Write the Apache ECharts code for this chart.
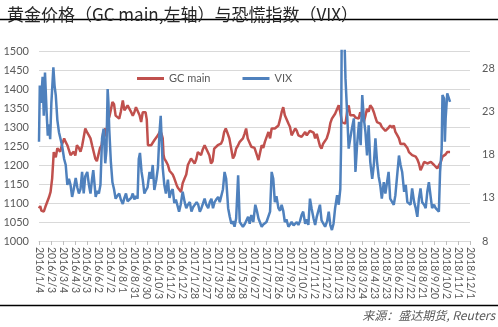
<!DOCTYPE html>
<html><head><meta charset="utf-8">
<script src="https://cdn.jsdelivr.net/npm/echarts@6/dist/echarts.min.js"></script>
<style>html,body{margin:0;padding:0;background:#fff}#c{width:498px;height:327px}</style>
</head><body><div id="c"></div>
<script>
const titleText = '黄金价格（GC main,左轴）与恐慌指数（VIX）';
const sourceText = '来源：盛达期货, Reuters';
const seriesNames = ['GC main', 'VIX'];
const axisStart = '2016/1/4';
const axisEnd = '2018/12/19';
const tickDays = 30;
const leftMin = 1000, leftMax = 1500, leftStep = 50;
const rightMin = 8, rightMax = 30;
const rightTickLabels = [8, 13, 18, 23, 28];

const goldDates = ['2016/1/4','2016/1/7','2016/1/10','2016/1/13','2016/1/16','2016/1/20','2016/1/25','2016/1/29','2016/2/2','2016/2/6','2016/2/10','2016/2/15','2016/2/19','2016/2/26','2016/3/2','2016/3/7','2016/3/11','2016/3/15','2016/3/19','2016/3/23','2016/3/27','2016/3/31','2016/4/4','2016/4/8','2016/4/13','2016/4/17','2016/4/21','2016/4/25','2016/4/29','2016/5/4','2016/5/8','2016/5/12','2016/5/16','2016/5/20','2016/5/24','2016/5/28','2016/6/1','2016/6/5','2016/6/9','2016/6/13','2016/6/18','2016/6/21','2016/6/24','2016/6/28','2016/7/2','2016/7/6','2016/7/10','2016/7/14','2016/7/19','2016/7/23','2016/7/27','2016/8/1','2016/8/5','2016/8/9','2016/8/13','2016/8/17','2016/8/22','2016/8/26','2016/8/30','2016/9/3','2016/9/7','2016/9/12','2016/9/16','2016/9/20','2016/9/27','2016/9/30','2016/10/3','2016/10/7','2016/10/11','2016/10/15','2016/10/19','2016/10/24','2016/10/28','2016/11/3','2016/11/6','2016/11/9','2016/11/11','2016/11/13','2016/11/17','2016/11/22','2016/11/26','2016/11/30','2016/12/4','2016/12/8','2016/12/12','2016/12/14','2016/12/17','2016/12/21','2016/12/25','2016/12/29','2017/1/3','2017/1/7','2017/1/11','2017/1/15','2017/1/19','2017/1/23','2017/1/28','2017/2/1','2017/2/5','2017/2/9','2017/2/13','2017/2/17','2017/2/22','2017/2/26','2017/3/2','2017/3/6','2017/3/10','2017/3/14','2017/3/18','2017/3/22','2017/3/27','2017/3/31','2017/4/4','2017/4/8','2017/4/12','2017/4/16','2017/4/20','2017/4/25','2017/4/29','2017/5/4','2017/5/8','2017/5/12','2017/5/16','2017/5/21','2017/5/25','2017/5/29','2017/6/2','2017/6/6','2017/6/10','2017/6/14','2017/6/19','2017/6/23','2017/6/27','2017/7/3','2017/7/7','2017/7/11','2017/7/15','2017/7/19','2017/7/23','2017/7/27','2017/8/1','2017/8/5','2017/8/9','2017/8/13','2017/8/17','2017/8/21','2017/8/26','2017/8/30','2017/9/3','2017/9/7','2017/9/11','2017/9/15','2017/9/20','2017/9/24','2017/9/28','2017/10/3','2017/10/7','2017/10/11','2017/10/15','2017/10/19','2017/10/23','2017/10/27','2017/11/1','2017/11/5','2017/11/9','2017/11/13','2017/11/17','2017/11/22','2017/11/26','2017/11/30','2017/12/4','2017/12/8','2017/12/12','2017/12/16','2017/12/21','2017/12/25','2017/12/30','2018/1/3','2018/1/7','2018/1/11','2018/1/15','2018/1/20','2018/1/24','2018/1/28','2018/2/1','2018/2/6','2018/2/10','2018/2/14','2018/2/18','2018/2/22','2018/2/26','2018/3/3','2018/3/7','2018/3/11','2018/3/15','2018/3/19','2018/3/24','2018/3/28','2018/4/1','2018/4/5','2018/4/9','2018/4/13','2018/4/18','2018/4/22','2018/4/26','2018/4/30','2018/5/4','2018/5/8','2018/5/12','2018/5/17','2018/5/21','2018/5/25','2018/5/29','2018/6/2','2018/6/7','2018/6/11','2018/6/15','2018/6/20','2018/6/24','2018/6/28','2018/7/2','2018/7/7','2018/7/11','2018/7/15','2018/7/19','2018/7/23','2018/7/27','2018/8/1','2018/8/5','2018/8/9','2018/8/13','2018/8/17','2018/8/21','2018/8/26','2018/8/30','2018/9/3','2018/9/7','2018/9/12','2018/9/16','2018/9/20','2018/9/24','2018/9/28','2018/10/2','2018/10/7','2018/10/11','2018/10/15','2018/10/19','2018/10/23','2018/10/27','2018/10/30'];
const goldValues = [1086,1092,1080,1085,1077,1090,1095,1115,1129,1165,1234,1220,1244,1235,1255,1270,1260,1252,1250,1226,1225,1235,1225,1252,1245,1235,1250,1252,1296,1285,1278,1270,1252,1255,1217,1210,1213,1245,1252,1285,1296,1275,1320,1326,1345,1366,1360,1330,1326,1322,1340,1370,1344,1350,1357,1355,1339,1330,1339,1352,1352,1331,1313,1339,1339,1320,1252,1257,1252,1257,1265,1268,1278,1290,1282,1270,1228,1217,1210,1200,1185,1182,1175,1165,1160,1147,1140,1135,1129,1152,1165,1175,1200,1198,1217,1215,1204,1215,1234,1238,1226,1240,1252,1255,1234,1225,1204,1210,1243,1248,1252,1250,1256,1265,1287,1296,1285,1270,1265,1217,1225,1243,1250,1261,1262,1270,1282,1296,1270,1265,1248,1252,1245,1226,1213,1218,1252,1245,1261,1265,1287,1270,1296,1292,1296,1300,1304,1320,1339,1352,1331,1330,1309,1300,1278,1282,1296,1290,1278,1283,1274,1270,1287,1278,1283,1290,1291,1285,1270,1282,1278,1250,1243,1256,1256,1270,1287,1310,1322,1320,1335,1340,1357,1339,1313,1317,1309,1340,1357,1331,1335,1331,1325,1326,1322,1339,1335,1313,1330,1348,1340,1357,1350,1339,1325,1313,1315,1309,1300,1296,1290,1291,1298,1304,1298,1304,1287,1278,1270,1255,1252,1256,1256,1245,1234,1230,1226,1222,1222,1215,1204,1186,1195,1208,1205,1204,1200,1208,1205,1200,1200,1191,1195,1208,1222,1226,1228,1234,1232,1234];

const vixDates = ['2016/1/4','2016/1/6','2016/1/9','2016/1/13','2016/1/16','2016/1/19','2016/1/23','2016/1/26','2016/1/29','2016/2/1','2016/2/4','2016/2/9','2016/2/12','2016/2/15','2016/2/19','2016/2/23','2016/2/27','2016/3/2','2016/3/7','2016/3/11','2016/3/15','2016/3/19','2016/3/23','2016/3/27','2016/3/31','2016/4/5','2016/4/9','2016/4/13','2016/4/17','2016/4/21','2016/4/25','2016/4/29','2016/5/4','2016/5/8','2016/5/12','2016/5/16','2016/5/19','2016/5/25','2016/5/29','2016/6/2','2016/6/6','2016/6/10','2016/6/14','2016/6/18','2016/6/21','2016/6/24','2016/6/26','2016/6/28','2016/7/2','2016/7/6','2016/7/10','2016/7/14','2016/7/18','2016/7/23','2016/7/27','2016/8/1','2016/8/5','2016/8/9','2016/8/13','2016/8/17','2016/8/22','2016/8/26','2016/8/30','2016/9/3','2016/9/7','2016/9/10','2016/9/13','2016/9/17','2016/9/20','2016/9/24','2016/9/28','2016/10/2','2016/10/7','2016/10/11','2016/10/15','2016/10/19','2016/10/24','2016/10/28','2016/11/1','2016/11/4','2016/11/7','2016/11/9','2016/11/13','2016/11/17','2016/11/22','2016/11/26','2016/11/30','2016/12/4','2016/12/8','2016/12/12','2016/12/16','2016/12/20','2016/12/24','2016/12/29','2017/1/3','2017/1/7','2017/1/11','2017/1/16','2017/1/20','2017/1/24','2017/1/28','2017/2/2','2017/2/6','2017/2/10','2017/2/14','2017/2/18','2017/2/22','2017/2/26','2017/3/3','2017/3/7','2017/3/11','2017/3/15','2017/3/19','2017/3/23','2017/3/28','2017/4/1','2017/4/5','2017/4/9','2017/4/13','2017/4/17','2017/4/22','2017/4/26','2017/4/30','2017/5/4','2017/5/8','2017/5/12','2017/5/17','2017/5/21','2017/5/25','2017/5/29','2017/6/3','2017/6/7','2017/6/11','2017/6/15','2017/6/19','2017/6/24','2017/6/29','2017/7/3','2017/7/7','2017/7/11','2017/7/15','2017/7/19','2017/7/23','2017/7/27','2017/8/1','2017/8/5','2017/8/9','2017/8/13','2017/8/17','2017/8/21','2017/8/26','2017/8/30','2017/9/3','2017/9/7','2017/9/11','2017/9/15','2017/9/20','2017/9/24','2017/9/28','2017/10/3','2017/10/7','2017/10/11','2017/10/15','2017/10/19','2017/10/23','2017/10/27','2017/11/1','2017/11/5','2017/11/9','2017/11/13','2017/11/17','2017/11/22','2017/11/26','2017/11/30','2017/12/4','2017/12/8','2017/12/12','2017/12/16','2017/12/21','2017/12/26','2017/12/30','2018/1/3','2018/1/7','2018/1/11','2018/1/15','2018/1/20','2018/1/24','2018/1/28','2018/1/30','2018/2/1','2018/2/3','2018/2/6','2018/2/10','2018/2/14','2018/2/18','2018/2/22','2018/2/26','2018/3/3','2018/3/7','2018/3/11','2018/3/16','2018/3/20','2018/3/24','2018/3/28','2018/4/1','2018/4/5','2018/4/9','2018/4/13','2018/4/18','2018/4/22','2018/4/26','2018/4/30','2018/5/4','2018/5/8','2018/5/12','2018/5/17','2018/5/21','2018/5/25','2018/5/29','2018/6/2','2018/6/7','2018/6/11','2018/6/15','2018/6/20','2018/6/24','2018/6/28','2018/7/2','2018/7/7','2018/7/11','2018/7/15','2018/7/19','2018/7/23','2018/7/27','2018/8/1','2018/8/5','2018/8/9','2018/8/13','2018/8/17','2018/8/21','2018/8/26','2018/8/30','2018/9/3','2018/9/7','2018/9/12','2018/9/15','2018/9/20','2018/9/24','2018/9/28','2018/10/2','2018/10/5','2018/10/9','2018/10/11','2018/10/15','2018/10/17','2018/10/19','2018/10/23','2018/10/26','2018/10/30'];
const vixValues = [19.5,26,24,27,22.5,27.5,23,20.2,21.5,19.8,24,28.1,26,24.9,22,20.6,19.8,19,17.5,16.8,14.5,15.2,14.5,13.1,14,15.3,14.2,13.5,14,16,13.5,15.5,16,14.5,13.5,15.2,16.2,13.1,13.8,13.5,14.5,19.9,21,17,18.5,25.6,24,21,17.2,14.8,14,12.9,13.2,13.5,12.8,12.3,13,13.5,12.6,12.4,13,13.5,12.8,13.2,12.9,17.5,18.2,16,15.1,13.5,13.9,14.2,16,15.2,16.8,13.9,15.1,16.5,20.6,22.5,19,16.5,14.5,13.5,15.1,13,13.7,14,12.4,12.8,12.9,11.4,12.2,13.7,12.5,11.8,12.2,12.5,11.4,11.9,11.8,12.5,12.2,11.4,11.8,11.6,12.9,12.2,11.8,12.5,12.9,11.8,12.5,12.8,13.1,12.5,12.5,14,16,15.2,11.8,10.8,10,10.3,9.65,10.6,15.6,10.2,10,9.65,10,10.2,10.8,10,11,10.2,12.2,11.5,10.6,10.4,9.65,9.9,9.85,10.2,10.2,11.4,16,15.2,12.5,13.2,11.8,11.5,12.2,11.5,10.2,10.5,9.65,9.9,10.2,9.8,9.65,10.2,9.85,10.3,11,11.4,10,10.5,9.85,12.9,11.8,10.6,9.85,10.8,10.6,12.2,10.4,10.2,9.65,10.3,11.4,9.85,9.27,10,11.8,13.3,12.2,14,19.1,36,30.5,34,26.8,22.9,18.7,19.9,21,22.2,16,19.1,21.8,19.1,24.9,22.2,20.6,17.9,21.4,17.2,15.2,16.8,19.9,17.2,15.5,14.5,12.9,14.8,13.5,13.7,16,12.9,12.5,12.2,13.3,13.3,17.9,16.8,16,13.7,14.5,12.5,12.7,12.2,14.1,12.5,11.8,10.8,12.9,14.1,12.5,12.2,11.8,13.7,14.8,12.9,11.8,12.2,11.8,11.65,11.4,16,18.7,24.9,24.5,19.5,22.2,25.1,25.2,24.1];

function toUTC(s){const p=s.split('/').map(Number);return Date.UTC(p[0],p[1]-1,p[2]);}
const t0 = toUTC(axisStart);
function dayIndex(s){return Math.round((toUTC(s)-t0)/86400000);}
function dayLabel(i){const d=new Date(t0+i*86400000);return d.getUTCFullYear()+'/'+(d.getUTCMonth()+1)+'/'+d.getUTCDate();}
function pairs(dates, vals){return dates.map((d,i)=>[dayIndex(d), vals[i]]);}

const chart = echarts.init(document.getElementById('c'), null, {renderer:'canvas'});
chart.setOption({
  animation:false,
  backgroundColor:'#fff',
  textStyle:{fontFamily:'Lato'},
  title:{text:titleText,left:2,top:1,textStyle:{fontFamily:'Noto Sans CJK SC',fontSize:17,fontWeight:'normal',color:'#262626'}},
  legend:{left:132,top:68,icon:'rect',itemWidth:27,itemHeight:3,itemGap:32,data:seriesNames,
    textStyle:{fontSize:11,color:'#595959',fontFamily:'Lato'}},
  grid:{left:39,right:28,top:51,bottom:86},
  xAxis:{type:'value',min:0,max:dayIndex(axisEnd),interval:tickDays,
    axisLine:{lineStyle:{color:'#d9d9d9'}},
    axisTick:{length:4,lineStyle:{color:'#bfbfbf'}},
    splitLine:{show:false},
    axisLabel:{rotate:-90,margin:6,fontSize:10.5,color:'#595959',fontFamily:'Lato',formatter:dayLabel,
      width:57,overflow:'truncate',ellipsis:'',showMinLabel:true,showMaxLabel:true}},
  yAxis:[
    {type:'value',min:leftMin,max:leftMax,interval:leftStep,
      splitLine:{lineStyle:{color:'#d9d9d9'}},axisLine:{show:false},axisTick:{show:false},
      axisLabel:{color:'#595959',fontSize:11,margin:10,fontFamily:'Lato',formatter:v=>String(v)}},
    {type:'value',min:rightMin,max:rightMax,
      splitLine:{show:false},axisLine:{show:false},axisTick:{show:false},
      axisLabel:{customValues:rightTickLabels,color:'#595959',fontSize:11,margin:12,fontFamily:'Lato',formatter:v=>String(v)}}
  ],
  series:[
    {name:seriesNames[0],type:'line',yAxisIndex:0,showSymbol:false,symbol:'none',clip:true,
      lineStyle:{width:2.5,color:'#C0504D'},itemStyle:{color:'#C0504D'},data:pairs(goldDates,goldValues)},
    {name:seriesNames[1],type:'line',yAxisIndex:1,showSymbol:false,symbol:'none',clip:true,
      lineStyle:{width:2.5,color:'#4F81BD'},itemStyle:{color:'#4F81BD'},data:pairs(vixDates,vixValues)}
  ],
  graphic:[
    {type:'line',shape:{x1:0,y1:19.5,x2:498,y2:19.5},style:{stroke:'#000',lineWidth:1.5}},
    {type:'line',shape:{x1:0,y1:305.5,x2:498,y2:305.5},style:{stroke:'#000',lineWidth:1.5}},
    {type:'text',right:3,top:309,style:{text:sourceText,font:'italic 12px "Noto Sans CJK SC"',fill:'#595959'}}
  ]
});
</script></body></html>
